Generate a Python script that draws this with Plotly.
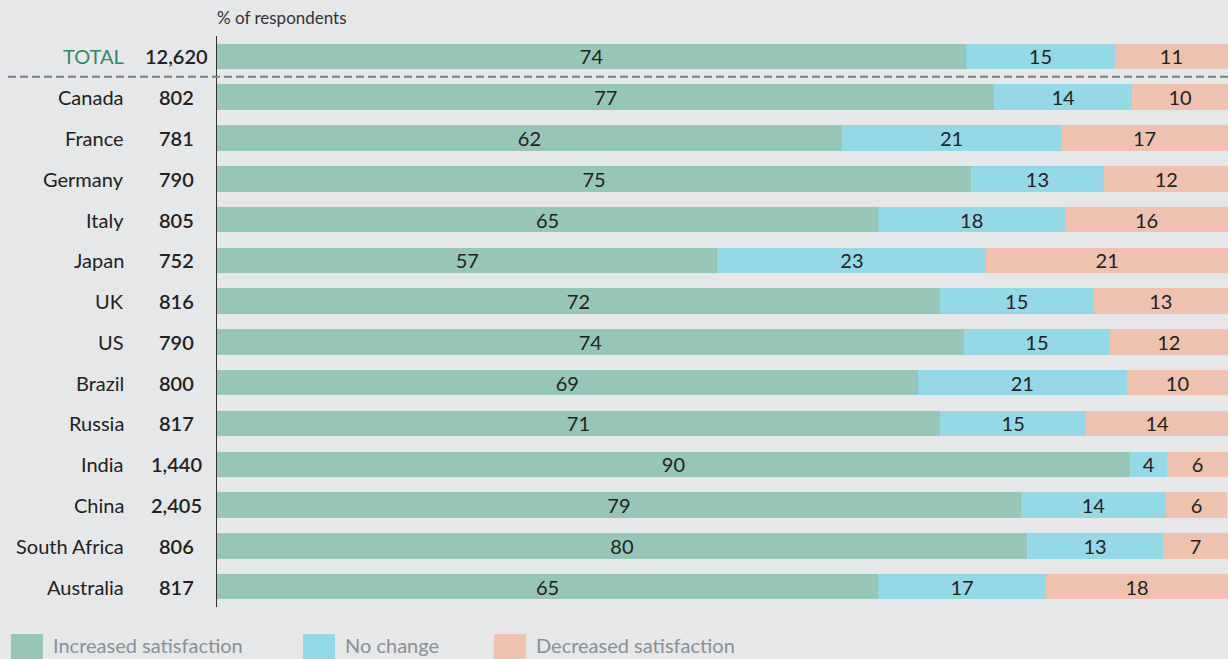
import plotly.graph_objects as go

countries = ["TOTAL", "Canada", "France", "Germany", "Italy", "Japan", "UK", "US",
             "Brazil", "Russia", "India", "China", "South Africa", "Australia"]
respondents = ["12,620", "802", "781", "790", "805", "752", "816", "790",
               "800", "817", "1,440", "2,405", "806", "817"]

# bar lengths as drawn (% of respondents)
increased = [74.1, 76.9, 61.8, 74.6, 65.4, 49.5, 71.5, 73.9, 69.3, 71.5, 90.3, 79.5, 80.1, 65.4]
no_change = [14.7, 13.6, 21.7, 13.1, 18.5, 26.6, 15.2, 14.4, 20.7, 14.5, 3.7, 14.4, 13.5, 16.6]
decreased = [11.2, 9.5, 16.5, 12.4, 16.1, 23.9, 13.3, 11.7, 10.0, 14.0, 6.0, 6.0, 6.4, 18.0]

# labels printed on the bars
increased_labels = [74, 77, 62, 75, 65, 57, 72, 74, 69, 71, 90, 79, 80, 65]
no_change_labels = [15, 14, 21, 13, 18, 23, 15, 15, 21, 15, 4, 14, 13, 17]
decreased_labels = [11, 10, 17, 12, 16, 21, 13, 12, 10, 14, 6, 6, 7, 18]

series_names = ["Increased satisfaction", "No change", "Decreased satisfaction"]
colors = ["#97c6b8", "#95d8e6", "#eec2ae"]

FONT = "Lato"
BG = "#e6e7e8"
TEXT = "#222222"

W, H = 1228, 659
L, R, T, B = 217, 0, 36, 52
PW = W - L - R
PH = H - T - B

ypos = list(range(len(countries)))

fig = go.Figure()
for name, vals, labs, col in zip(series_names,
                                 [increased, no_change, decreased],
                                 [increased_labels, no_change_labels, decreased_labels],
                                 colors):
    fig.add_trace(go.Bar(
        y=ypos, x=vals, orientation="h", name=name,
        marker=dict(color=col, line=dict(width=0)),
        text=[str(v) for v in labs], textposition="inside",
        insidetextanchor="middle", textangle=0,
        textfont=dict(family=FONT, size=20, color=TEXT),
        hoverinfo="skip", showlegend=False,
    ))

annotations = []
for i, (c, n) in enumerate(zip(countries, respondents)):
    annotations.append(dict(
        x=(126 - L) / PW, xref="paper", y=i, yref="y", text=c, showarrow=False,
        xanchor="right", yanchor="middle",
        font=dict(family=FONT, size=20, color="#2e8b6e" if c == "TOTAL" else TEXT)))
    annotations.append(dict(
        x=(176 - L) / PW, xref="paper", y=i, yref="y", text=n,
        showarrow=False, xanchor="center", yanchor="middle",
        font=dict(family=FONT, size=20, color=TEXT, weight=600)))

annotations.append(dict(
    x=-0.002, xref="paper", y=1 + (T - 18) / PH, yref="paper", text="% of respondents",
    showarrow=False, xanchor="left", yanchor="middle",
    font=dict(family=FONT, size=17, color="#333333")))

shapes = [dict(type="line", xref="paper", yref="y", x0=(8 - L) / PW, x1=1, y0=0.5, y1=0.5,
               line=dict(color="#7b8088", width=2, dash="8px,4px"))]

# legend (drawn manually, squares run off the bottom edge as in the reference)
legend_x = [11, 303, 494]
for lx, name, col in zip(legend_x, series_names, colors):
    shapes.append(dict(type="rect", xref="paper", yref="paper",
                       x0=(lx - L) / PW, x1=(lx + 32 - L) / PW,
                       y0=-(H - (T + PH)) / PH,
                       y1=-(634 - (T + PH)) / PH,
                       line=dict(width=0), fillcolor=col))
    annotations.append(dict(
        x=(lx + 40 - L) / PW, xref="paper", y=-(645 - (T + PH)) / PH, yref="paper",
        text=name, showarrow=False, xanchor="left", yanchor="middle",
        font=dict(family=FONT, size=20, color="#8a9096")))

fig.update_layout(
    width=W, height=H,
    margin=dict(l=L, r=R, t=T, b=B, pad=0),
    paper_bgcolor=BG, plot_bgcolor=BG,
    barmode="stack", bargap=0.375,
    xaxis=dict(range=[0, 100], showgrid=False, zeroline=False, showticklabels=False,
               ticks="", showline=False, fixedrange=True),
    yaxis=dict(range=[13.5, -0.5], showgrid=False, zeroline=False, showticklabels=False,
               ticks="", showline=True, linecolor="#333333", linewidth=1, fixedrange=True),
    uniformtext=dict(minsize=20, mode="show"),
    annotations=annotations, shapes=shapes,
    showlegend=False,
)

fig.write_html("out.html", config={"displayModeBar": False})

# remove the browser's default page margin so the figure sits at the window's corner
with open("out.html", encoding="utf-8") as f:
    html = f.read()
html = html.replace("<body>", '<body style="margin:0;overflow:hidden;background:%s">' % BG, 1)
with open("out.html", "w", encoding="utf-8") as f:
    f.write(html)
